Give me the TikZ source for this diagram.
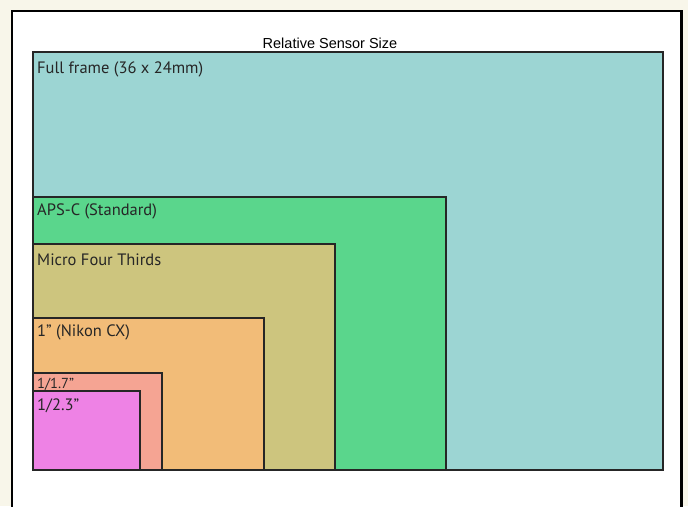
\documentclass[tikz,border=0pt]{standalone}
\usepackage{fontspec}
\setmainfont{PT Sans}
\newfontfamily\titlefont{Liberation Sans}
\definecolor{bgcream}{HTML}{F8F6EA}
\definecolor{fullframe}{HTML}{9CD5D3}
\definecolor{apsc}{HTML}{5AD68C}
\definecolor{mft}{HTML}{CDC57E}
\definecolor{oneinch}{HTML}{F2BC78}
\definecolor{onesevenths}{HTML}{F5A493}
\definecolor{onetwothree}{HTML}{EE82E5}
\begin{document}
\begin{tikzpicture}[x=1pt,y=-1pt,
  sensor/.style={draw=black!85, line width=1.3pt},
  lbl/.style={anchor=base west, inner sep=0pt, text=black!85, font=\fontsize{16.5}{18}\selectfont},
  ttl/.style={anchor=base, inner sep=0pt, font=\titlefont\fontsize{14.5}{16}\selectfont}]
\useasboundingbox (0,0) rectangle (688,506);
\fill[bgcream] (0,0) rectangle (688,506);
% white panel with a heavy frame
\draw[fill=white, line width=2.5pt] (12,11) rectangle (681.5,530);

\node[ttl] (title) at (330,48) {Relative Sensor Size};

% sensor outlines, largest first, sharing the lower-left corner
\coordinate (origin) at (33,470);
\draw[sensor, fill=fullframe]   (origin) rectangle (663,52);
\draw[sensor, fill=apsc]        (origin) rectangle (446,197);
\draw[sensor, fill=mft]         (origin) rectangle (335,244);
\draw[sensor, fill=oneinch]     (origin) rectangle (264,318);
\draw[sensor, fill=onesevenths] (origin) rectangle (162,373);
\draw[sensor, fill=onetwothree] (origin) rectangle (140,391);

\node[lbl] (lff)  at (37,73)  {Full frame (36 x 24mm)};
\node[lbl] (laps) at (37,215) {APS-C (Standard)};
\node[lbl] (lmft) at (37,265) {Micro Four Thirds};
\node[lbl] (l1)   at (37,336) {1” (Nikon CX)};
\node[lbl, font=\fontsize{14.5}{16}\selectfont] (l17) at (37,388) {1/1.7”};
\node[lbl] (l23)  at (37,410) {1/2.3”};
\end{tikzpicture}
\end{document}
